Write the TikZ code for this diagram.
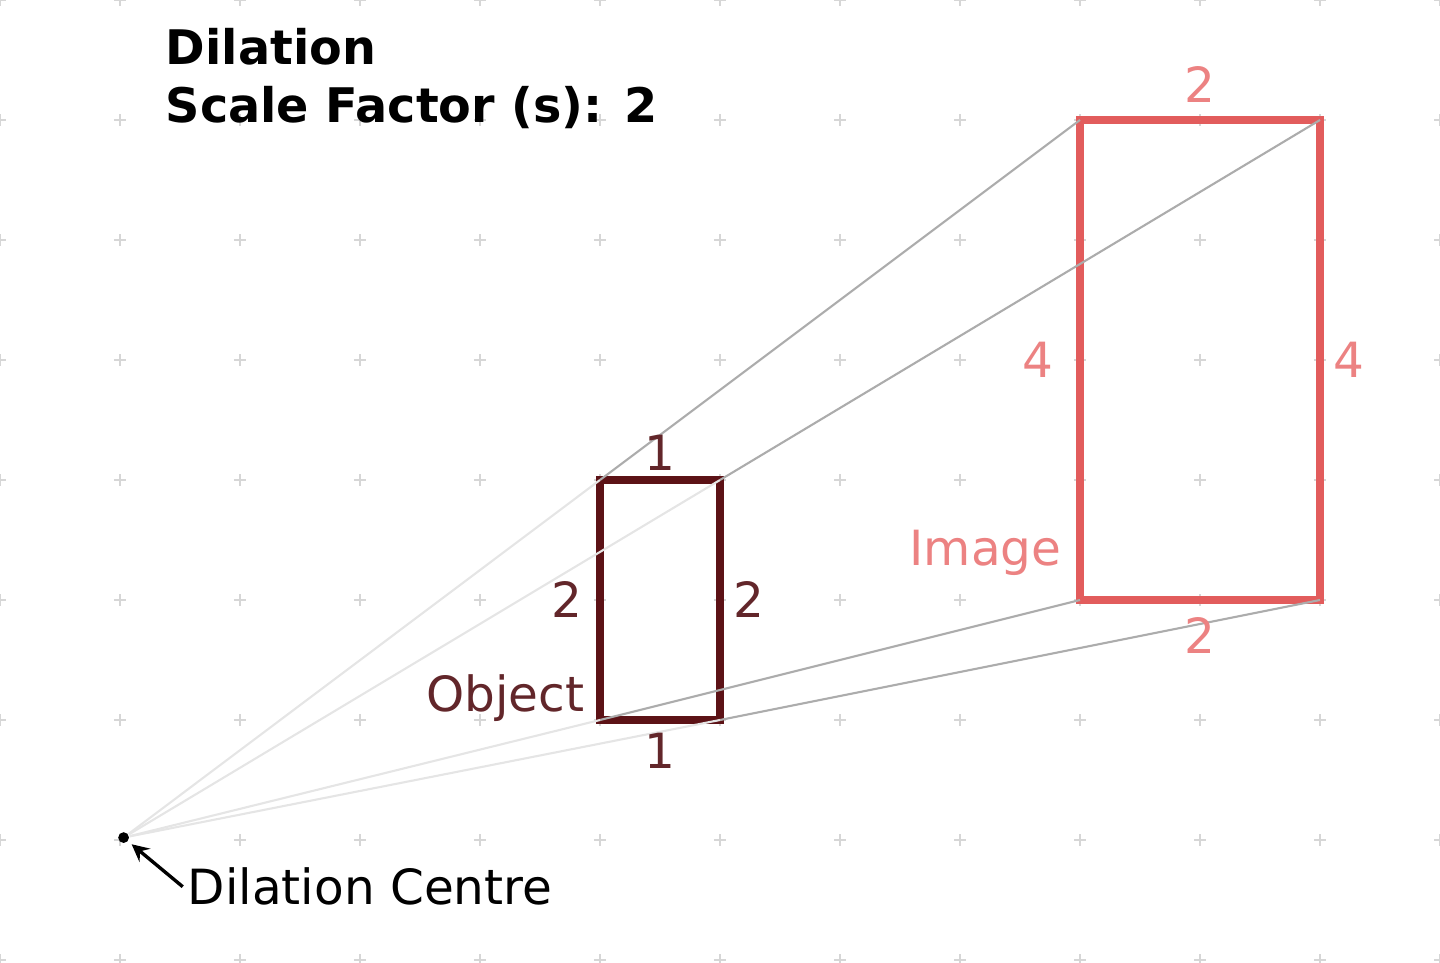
\documentclass[tikz,border=0pt]{standalone}
\usepackage{fontspec}
\setmainfont{DejaVu Sans}
\usetikzlibrary{positioning}
\definecolor{objred}{RGB}{92,18,22}
\definecolor{objtext}{RGB}{98,38,42}
\definecolor{imgred}{RGB}{226,92,92}
\definecolor{imgtext}{RGB}{236,130,130}
\tikzset{
    grid-mark/.style = {draw=gray!32, line width=0.6pt},
    shape-box/.style = {draw, rectangle, outer sep=0pt, inner sep=0pt},
    object-box/.style = {shape-box, draw=objred, line width=2pt, minimum width=1cm, minimum height=2cm},
    image-box/.style = {shape-box, draw=imgred, line width=1.8pt, minimum width=2cm, minimum height=4cm},
    object-label/.style = {text=objtext, inner sep=2pt},
    image-label/.style = {text=imgtext, inner sep=2pt},
    ray-near/.style = {draw=gray!20, line width=0.5pt},
    ray-far/.style = {draw=gray!65, line width=0.5pt},
    title-text/.style = {font=\fontsize{11.3}{13.7}\selectfont\bfseries, anchor=base west, inner sep=0pt},
}

\begin{document}
\begin{tikzpicture}[font=\fontsize{11.5}{13.7}\selectfont]
\useasboundingbox (-1,-1.025) rectangle (11,7);
% grid
\foreach \x in {-1,...,11}
  \foreach \y in {-1,...,7}
    \draw[grid-mark] (\x-0.05,\y) -- (\x+0.05,\y) (\x,\y-0.05) -- (\x,\y+0.05);

\node[title-text] (title) at (0.375,6.46) {Dilation};
\node[title-text] (scale) at ([yshift=-13.7pt]title.base west) {Scale Factor (s): 2};

\node[circle, fill=black, inner sep=0pt, minimum size=0.09cm] (centre) at (0.03,0.02) {};
\node[anchor=base west, inner sep=0pt] (centre-label) at (0.558,-0.54) {Dilation Centre};
\draw[->, >=stealth, line width=0.8pt, shorten >=1pt] ([xshift=-1pt]centre-label.west) -- (centre);

\node[object-box] (object) at (4.5,2) {};
\node[image-box] (image) at (9,4) {};

% rays
\foreach \corner in {north west, north east, south west, south east} {
    \draw[ray-near] (centre) -- (object.\corner);
    \draw[ray-far] (object.\corner) -- (image.\corner);
}

\node[object-label, above=0pt of object.north] {1};
\node[object-label, below=1pt of object.south] {1};
\node[object-label, left=2pt of object.west] {2};
\node[object-label, right=1pt of object.east] {2};
\node[object-label, anchor=base east] at ([xshift=-1.5pt, yshift=1.9pt]object.south west) {Object};

\node[image-label, above=2pt of image.north] {2};
\node[image-label, below=2pt of image.south] {2};
\node[image-label, left=4pt of image.west] {4};
\node[image-label, right=1pt of image.east] {4};
\node[image-label, anchor=base east] at ([xshift=-2.2pt, yshift=8.2pt]image.south west) {Image};
\end{tikzpicture}
\end{document}
